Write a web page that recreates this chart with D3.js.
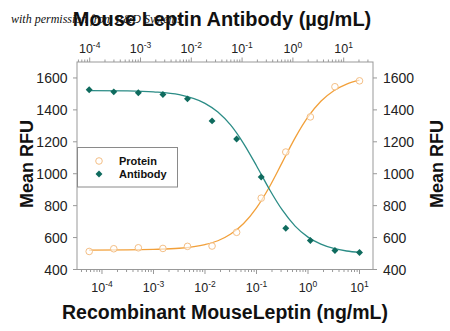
<!DOCTYPE html>
<html>
<head>
<meta charset="utf-8">
<script src="https://cdn.jsdelivr.net/npm/d3@7"></script>
<style>
  html, body { margin: 0; padding: 0; background: #fff; }
  svg { display: block; }
  text { font-family: "Liberation Sans", Arial, sans-serif; }
</style>
</head>
<body>
<svg id="chart" width="450" height="331"></svg>
<script>
// ---------- data ----------
const concentration = [0.00005645, 0.0001694, 0.000508, 0.001524, 0.004572, 0.01372,
                       0.04115, 0.1235, 0.3704, 1.111, 3.333, 10];
const proteinRFU  = [513, 530, 536, 532, 545, 547, 633, 847, 1136, 1356, 1545, 1582];
const antibodyRFU = [1526, 1513, 1507, 1496, 1469, 1331, 1218, 979, 658, 582, 519, 507];

// fitted curves (log10 concentration, RFU)
const fitLogConc  = [-4.25, -3.5, -3, -2.5, -2, -1.75, -1.5, -1.25, -1, -0.75, -0.5, -0.25, 0, 0.25, 0.5, 0.75, 1.0];
const proteinFit  = [522, 523, 526, 533, 556, 580, 622, 688, 786, 917, 1071, 1225, 1356, 1454, 1520, 1562, 1586];
const antibodyFit = [1521, 1519, 1513, 1495, 1441, 1387, 1304, 1189, 1050, 903, 773, 672, 603, 559, 532, 516, 507];

const yTicks = [400, 600, 800, 1000, 1200, 1400, 1600];
const xTickExponents = [-4, -3, -2, -1, 0, 1];

const titleTop = "Mouse Leptin Antibody (\u00b5g/mL)";
const titleBottom = "Recombinant MouseLeptin (ng/mL)";
const yTitle = "Mean RFU";
const watermark = "with permission from R&D Systems";
const seriesNames = ["Protein", "Antibody"];

// ---------- layout ----------
const L = 77, R = 373, T = 62, B = 269.5;
const axisColor = "#999";
const orangeLine = "#f2a03a", orangeMark = "#f4bf86";
const tealLine = "#2b8c86", tealMark = "#0f6b5e";

const svg = d3.select("#chart");

const x = d3.scaleLog().domain([Math.pow(10, -4.485), Math.pow(10, 1.262)]).range([L, R]);
const xTop = d3.scaleLog().domain([Math.pow(10, -4.25), Math.pow(10, 1.577)]).range([L, R]);
const y = d3.scaleLinear().domain([400, 1700]).range([B, T]);

// watermark then title on top
svg.append("text").attr("x", 11).attr("y", 23)
  .style("font-family", "'Liberation Serif', 'DejaVu Serif', serif")
  .style("font-style", "italic").style("font-size", "12px").attr("fill", "#111")
  .text(watermark);
svg.append("text").attr("x", 222).attr("y", 25.5).attr("text-anchor", "middle")
  .style("font-weight", "bold").style("font-size", "20px").attr("fill", "#111")
  .text(titleTop);

// frame
const frame = svg.append("g").attr("stroke", axisColor).attr("stroke-width", 1).attr("fill", "none");
frame.append("rect").attr("x", L).attr("y", T).attr("width", R - L).attr("height", B - T);

// log ticks helper
function logTicks(scale) {
  const [d0, d1] = scale.domain();
  const out = [];
  for (let e = Math.floor(Math.log10(d0)); e <= Math.ceil(Math.log10(d1)); e++) {
    for (let m = 1; m <= 9; m++) {
      const v = m * Math.pow(10, e);
      if (v >= d0 && v <= d1) out.push({ v, major: m === 1 });
    }
  }
  return out;
}

// bottom ticks
frame.selectAll(".bt").data(logTicks(x)).join("line")
  .attr("x1", d => x(d.v)).attr("x2", d => x(d.v))
  .attr("y1", B).attr("y2", d => B + (d.major ? 4.5 : 2.5));
// top ticks
frame.selectAll(".tt").data(logTicks(xTop)).join("line")
  .attr("x1", d => xTop(d.v)).attr("x2", d => xTop(d.v))
  .attr("y1", T).attr("y2", d => T - (d.major ? 4.5 : 2.5));
// left & right ticks
frame.selectAll(".lt").data(yTicks).join("line")
  .attr("x1", L - 4).attr("x2", L).attr("y1", d => y(d)).attr("y2", d => y(d));
frame.selectAll(".rt").data(yTicks).join("line")
  .attr("x1", R).attr("x2", R + 4).attr("y1", d => y(d)).attr("y2", d => y(d));

// x tick labels with superscripts
function powLabels(scale, baseY) {
  const g = svg.append("g");
  xTickExponents.forEach(e => {
    const t = g.append("text").attr("x", scale(Math.pow(10, e))).attr("y", baseY)
      .attr("text-anchor", "middle").style("font-size", "12.5px").attr("fill", "#222");
    t.append("tspan").text("10");
    t.append("tspan").attr("dy", -5).style("font-size", "8.5px").text(String(e));
  });
}
powLabels(x, 292);
powLabels(xTop, 53);

// y tick labels
svg.append("g").selectAll("text").data(yTicks).join("text")
  .attr("x", 67.5).attr("y", d => y(d) + 5.2).attr("text-anchor", "end")
  .style("font-size", "14px").attr("fill", "#222").text(d => d);
svg.append("g").selectAll("text").data(yTicks).join("text")
  .attr("x", 383).attr("y", d => y(d) + 5.2).attr("text-anchor", "start")
  .style("font-size", "14px").attr("fill", "#222").text(d => d);

// axis titles
svg.append("text").attr("transform", "translate(33,164) rotate(-90)").attr("text-anchor", "middle")
  .style("font-weight", "bold").style("font-size", "18px").attr("fill", "#111").text(yTitle);
svg.append("text").attr("transform", "translate(443,164) rotate(-90)").attr("text-anchor", "middle")
  .style("font-weight", "bold").style("font-size", "18px").attr("fill", "#111").text(yTitle);
svg.append("text").attr("x", 225).attr("y", 319).attr("text-anchor", "middle")
  .style("font-weight", "bold").style("font-size", "19.5px").attr("fill", "#111").text(titleBottom);

// fit curves
const line = d3.line().x(d => x(Math.pow(10, d[0]))).y(d => y(d[1])).curve(d3.curveMonotoneX);
svg.append("path").datum(fitLogConc.map((c, i) => [c, proteinFit[i]]))
  .attr("d", line).attr("fill", "none").attr("stroke", orangeLine).attr("stroke-width", 1.3);
svg.append("path").datum(fitLogConc.map((c, i) => [c, antibodyFit[i]]))
  .attr("d", line).attr("fill", "none").attr("stroke", tealLine).attr("stroke-width", 1.3);

// points
svg.append("g").selectAll("circle").data(concentration).join("circle")
  .attr("cx", d => x(d)).attr("cy", (d, i) => y(proteinRFU[i])).attr("r", 3.3)
  .attr("fill", "#fff").attr("fill-opacity", 0.6).attr("stroke", orangeMark).attr("stroke-width", 1);
const diamond = d3.symbol().type(d3.symbolSquare).size(24);
svg.append("g").selectAll("path").data(concentration).join("path")
  .attr("d", diamond)
  .attr("transform", (d, i) => `translate(${x(d)},${y(antibodyRFU[i])}) rotate(45)`)
  .attr("fill", tealMark);

// legend
const lg = svg.append("g");
lg.append("rect").attr("x", 77.5).attr("y", 147.5).attr("width", 100).attr("height", 39.5)
  .attr("fill", "#fff").attr("stroke", "#8a8a8a").attr("stroke-width", 1);
lg.append("circle").attr("cx", 99).attr("cy", 161).attr("r", 3.3)
  .attr("fill", "#fff").attr("stroke", orangeMark).attr("stroke-width", 1);
lg.append("path").attr("d", diamond).attr("transform", "translate(99,174) rotate(45)").attr("fill", tealMark);
lg.selectAll("text").data(seriesNames).join("text")
  .attr("x", 119).attr("y", (d, i) => 165 + i * 13)
  .style("font-weight", "bold").style("font-size", "11px").attr("fill", "#111").text(d => d);
</script>
</body>
</html>
